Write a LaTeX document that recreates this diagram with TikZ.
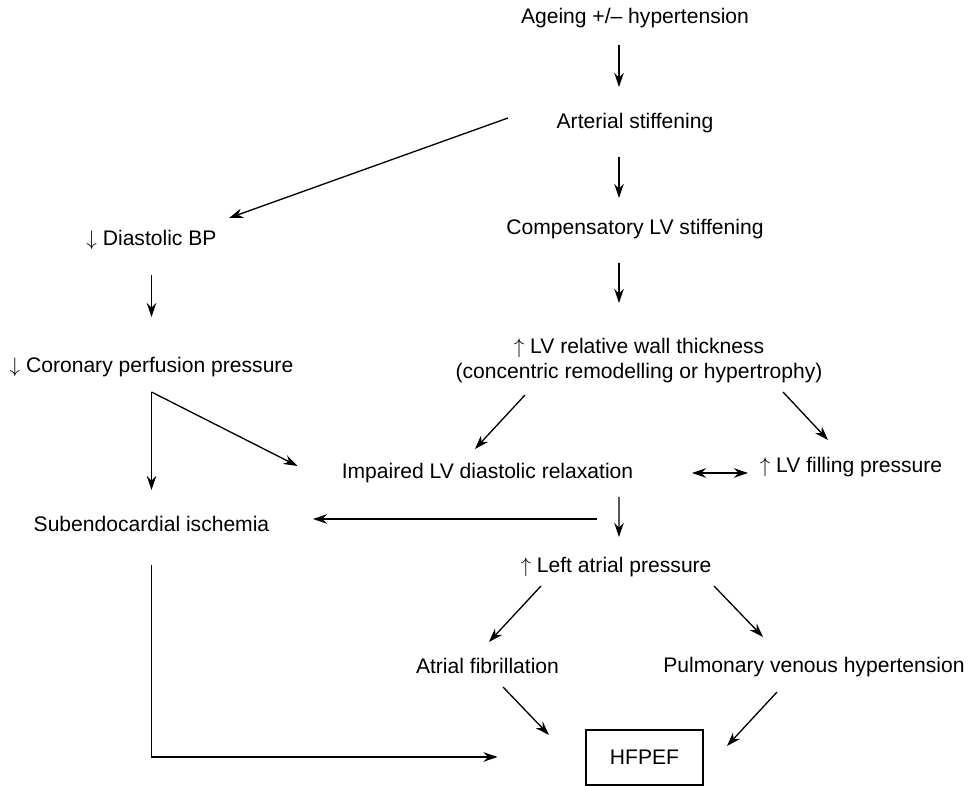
\documentclass[tikz,border=0pt]{standalone}
\usepackage{fontspec}
\setmainfont{Liberation Sans}
\usetikzlibrary{arrows.meta, calc}

\begin{document}
\begin{tikzpicture}[
x=0.02cm, y=-0.02cm,
lbl/.style={inner sep=0pt, font=\fontsize{12}{14.2}\selectfont},
txt/.style={lbl, text height=8.6pt, text depth=2.5pt},
arr/.style={-{Stealth[length=0.28cm, width=0.19cm]}, line width=0.75pt},
dbl/.style={{Stealth[length=0.28cm, width=0.19cm]}-{Stealth[length=0.28cm, width=0.19cm]}, line width=0.75pt}
]
\useasboundingbox (0,0) rectangle (971,786);
% right column
\node[txt] (age) at (635,18) {Ageing +/– hypertension};
\node[txt] (art) at (635,123) {Arterial stiffening};
\node[txt] (comp) at (635,229) {Compensatory LV stiffening};
\node[lbl, align=center] (wall) at (639,360.5) {$\uparrow$ LV relative wall thickness\\(concentric remodelling or hypertrophy)};
\node[txt] (imp) at (487.5,473) {Impaired LV diastolic relaxation};
\node[txt] (fill) at (851,467) {$\uparrow$ LV filling pressure};
\node[txt] (lap) at (616,567) {$\uparrow$ Left atrial pressure};
\node[txt] (af) at (487.5,668) {Atrial fibrillation};
\node[txt] (pvh) at (814,667) {Pulmonary venous hypertension};
\node[lbl, draw, line width=0.6pt, minimum width=2.34cm, minimum height=1.1cm] (hf) at (644.5,757.5) {HFPEF};
% left column
\node[txt] (dbp) at (151.5,240) {$\downarrow$ Diastolic BP};
\node[txt] (cor) at (151.5,367) {$\downarrow$ Coronary perfusion pressure};
\node[txt] (sub) at (151.5,526) {Subendocardial ischemia};
\coordinate (split) at ($(cor)+(0,25)$);
% connectors
\draw[arr] ($(age)+(-16,27)$) -- ($(art)+(-16,-36)$);
\draw[arr] ($(art)+(-16,34)$) -- ($(comp)+(-16,-31)$);
\draw[arr] ($(comp)+(-16,34)$) -- ($(wall)+(-20,-57.5)$);
\draw[arr] ($(art)+(-127,-5)$) -- ($(dbp)+(77.5,-22)$);
\draw[arr] ($(dbp)+(0,35)$) -- ($(cor)+(0,-50)$);
\draw[arr] (split) -- ($(sub)+(0,-36)$);
\draw[arr] (split) -- ($(imp)+(-190,-7)$);
\draw[arr] ($(wall)+(-114,34.5)$) -- ($(imp)+(-12.5,-24)$);
\draw[arr] ($(wall)+(144,31.5)$) -- ($(fill)+(-23,-27)$);
\draw[dbl] ($(imp)+(204.5,0)$) -- ($(fill)+(-103,6)$);
\draw[arr] ($(imp)+(131.5,24)$) -- ($(lap)+(3,-30)$);
\draw[arr] ($(imp)+(109.5,46)$) -- ($(sub)+(161.5,-7)$);
\draw[arr] ($(lap)+(-75,19)$) -- ($(af)+(1.5,-26)$);
\draw[arr] ($(lap)+(98,19)$) -- ($(pvh)+(-51,-30)$);
\draw[arr] ($(af)+(15.5,19)$) -- ($(hf)+(-95.5,-22.5)$);
\draw[arr] ($(pvh)+(-37,25)$) -- ($(hf)+(82.5,-11.5)$);
\draw[arr] ($(sub)+(0,39)$) |- ($(hf)+(-147,-0.5)$);
\end{tikzpicture}
\end{document}
